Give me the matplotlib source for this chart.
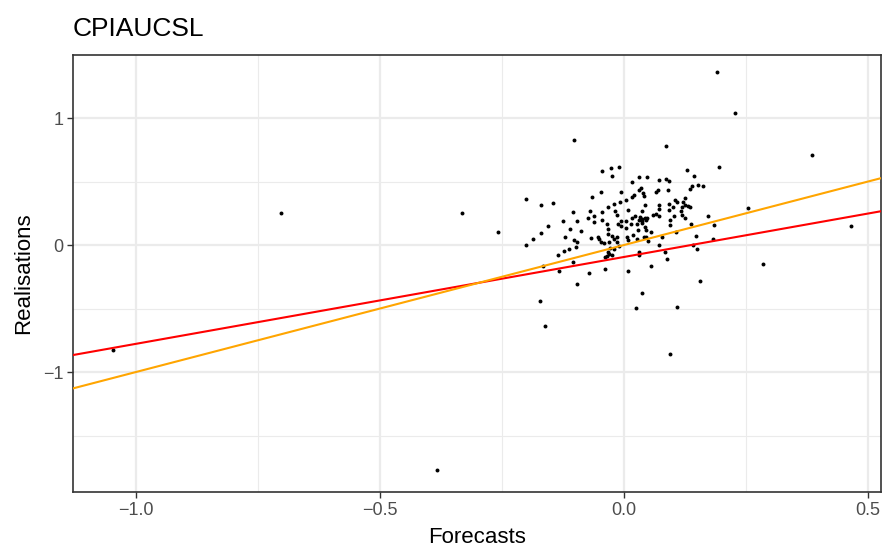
import matplotlib
matplotlib.use("Agg")
import matplotlib.pyplot as plt
from matplotlib.ticker import FixedLocator

plt.rcParams['font.family'] = ['Liberation Sans', 'DejaVu Sans']

title = "CPIAUCSL"
x_label = "Forecasts"
y_label = "Realisations"

forecasts = [
    -1.047, -0.703, -0.384, -0.331, -0.258, 0.191, 0.227, 0.386, 0.466, 0.285,
    0.254, 0.195, 0.162, 0.172, 0.185, 0.182, 0.157, -0.102, 0.087, 0.094,
    -0.161, -0.172, 0.037, 0.025, 0.108,
    -0.201, -0.169, -0.146, -0.155, -0.169, -0.187, -0.201, -0.136, -0.165, -0.132,
    -0.097, -0.072, -0.038, -0.105, -0.110, -0.087, -0.121, -0.102, -0.096, -0.099,
    -0.068, -0.123, -0.112,
    -0.045, -0.027, -0.009, -0.025, 0.017, -0.047, -0.065, -0.005, 0.020, -0.033,
    -0.020, -0.008, 0.005, 0.016, -0.070, -0.105, -0.045, -0.018, -0.014, 0.008,
    -0.061, -0.073, -0.045, -0.096, -0.125, -0.005, 0.017, 0.005,
    0.129, 0.032, 0.048, 0.073, 0.087, 0.092, 0.144, 0.139, 0.151, 0.136,
    0.036, 0.030, 0.039, 0.041, 0.066, 0.070, 0.091, 0.125, 0.122, 0.104,
    0.108, 0.093, 0.100, 0.073, 0.044, 0.125, 0.132, 0.119, 0.136, 0.118,
    0.093, 0.073, 0.037, 0.066, 0.071, 0.060, 0.120, 0.102, 0.126, 0.033,
    0.037, 0.043, 0.048, 0.031, 0.037, 0.046, 0.094, 0.022,
    -0.061, -0.035, -0.033, -0.013, -0.005, 0.005, 0.014, -0.052, -0.050, -0.047,
    -0.033, -0.024, -0.015, -0.020, -0.030, -0.014, -0.040, -0.010, 0.006, 0.009,
    0.019, -0.028, -0.020, -0.032, -0.030, -0.035, -0.039, -0.024, 0.009,
    0.026, 0.037, 0.043, 0.046, 0.055, 0.029, 0.041, 0.046, 0.026, 0.050,
    0.094, 0.138, 0.079, 0.106, 0.148, 0.072, 0.030, 0.030, 0.084, 0.142,
    0.150, 0.055, 0.089,
]

realisations = [
    -0.826, 0.254, -1.774, 0.254, 0.106, 1.366, 1.037, 0.709, 0.150, -0.147,
    0.288, 0.612, 0.468, 0.231, 0.161, 0.051, -0.280, 0.824, 0.781, -0.857,
    -0.638, -0.440, -0.380, -0.497, -0.487,
    0.364, 0.312, 0.333, 0.147, 0.098, 0.051, 0.002, -0.082, -0.161, -0.207,
    -0.307, -0.223, -0.189, -0.135, 0.124, 0.108, 0.064, 0.041, 0.025, -0.017,
    0.053, -0.043, -0.033,
    0.581, 0.605, 0.617, 0.542, 0.500, 0.417, 0.382, 0.421, 0.395, 0.299,
    0.327, 0.343, 0.354, 0.377, 0.272, 0.260, 0.260, 0.270, 0.239, 0.278,
    0.226, 0.210, 0.200, 0.192, 0.186, 0.192, 0.213, 0.186,
    0.589, 0.536, 0.539, 0.515, 0.523, 0.507, 0.544, 0.468, 0.476, 0.445,
    0.448, 0.432, 0.409, 0.385, 0.417, 0.435, 0.437, 0.370, 0.343, 0.351,
    0.341, 0.323, 0.301, 0.317, 0.312, 0.317, 0.304, 0.296, 0.296, 0.270,
    0.278, 0.283, 0.265, 0.247, 0.231, 0.239, 0.239, 0.231, 0.213, 0.221,
    0.208, 0.210, 0.215, 0.197, 0.189, 0.194, 0.194, 0.226,
    0.179, 0.163, 0.127, 0.163, 0.150, 0.132, 0.168, 0.067, 0.049, 0.027,
    0.085, 0.072, 0.067, 0.049, 0.027, 0.027, 0.014, -0.004, 0.067, 0.041,
    0.080, -0.025, -0.033, -0.051, -0.069, -0.090, -0.096, -0.082, -0.208,
    0.163, 0.171, 0.145, 0.119, 0.106, 0.119, 0.061, 0.061, 0.049, 0.033,
    0.158, 0.166, 0.061, 0.106, 0.074, 0.002, -0.051, -0.077, -0.051, 0.002,
    -0.030, -0.166, -0.106,
]

# fitted regression line (red) and 45-degree reference (orange)
reg_intercept = -0.094
reg_slope = 0.684
ref_intercept = 0.0
ref_slope = 1.0

x_ticks = [-1.0, -0.5, 0.0, 0.5]
x_tick_labels = ["\u22121.0", "\u22120.5", "0.0", "0.5"]
y_ticks = [-1, 0, 1]
y_tick_labels = ["\u22121", "0", "1"]
x_minor = [-0.75, -0.25, 0.25]
y_minor = [-1.5, -0.5, 0.5, 1.5]

xlim = (-1.129, 0.527)
ylim = (-1.945, 1.497)

fig = plt.figure(figsize=(8.82, 5.5), dpi=100)
ax = fig.add_axes([73 / 882, 58 / 550, 808 / 882, 437 / 550])

ax.set_xlim(*xlim)
ax.set_ylim(*ylim)

ax.xaxis.set_major_locator(FixedLocator(x_ticks))
ax.yaxis.set_major_locator(FixedLocator(y_ticks))
ax.xaxis.set_minor_locator(FixedLocator(x_minor))
ax.yaxis.set_minor_locator(FixedLocator(y_minor))
ax.set_xticklabels(x_tick_labels)
ax.set_yticklabels(y_tick_labels)

ax.grid(which='major', color='#EBEBEB', linewidth=1.6, zorder=0)
ax.grid(which='minor', color='#EBEBEB', linewidth=0.8, zorder=0)
ax.set_axisbelow(True)

ax.tick_params(which='major', length=4, width=1.0, color='#333333',
               labelsize=13, labelcolor='#4D4D4D', pad=3)
ax.tick_params(which='minor', length=0)

for s in ax.spines.values():
    s.set_color('#333333')
    s.set_linewidth(1.2)

ax.scatter(forecasts, realisations, s=8, color='black', linewidths=0, zorder=3)

xs = list(xlim)
ax.plot(xs, [reg_intercept + reg_slope * v for v in xs], color='#FF0000',
        linewidth=1.5, zorder=4)
ax.plot(xs, [ref_intercept + ref_slope * v for v in xs], color='#FFA500',
        linewidth=1.5, zorder=4)

ax.set_xlabel(x_label, fontsize=16, color='black', labelpad=6)
ax.set_ylabel(y_label, fontsize=16, color='black', labelpad=6)
ax.set_title(title, fontsize=19, loc='left', pad=14, color='black')

fig.savefig("out.png", dpi=100)
